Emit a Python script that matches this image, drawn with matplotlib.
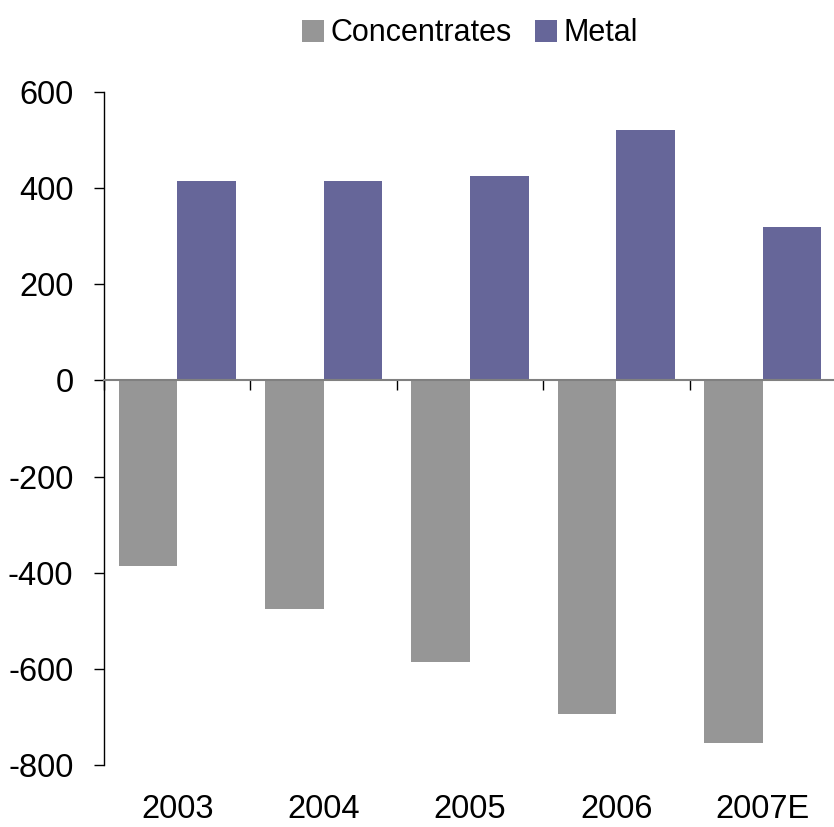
import matplotlib
matplotlib.use("Agg")
import matplotlib.pyplot as plt
import numpy as np

plt.rcParams['font.family'] = ['Liberation Sans', 'DejaVu Sans']

categories = ["2003", "2004", "2005", "2006", "2007E"]
concentrates = [-387, -476, -585, -693, -755]
metal = [414, 414, 426, 520, 320]
yticks = [-800, -600, -400, -200, 0, 200, 400, 600]

fig = plt.figure(figsize=(8.34, 8.27), dpi=100)
ax = fig.add_axes([104/834, 62/827, 732/834, 673/827])

x = np.arange(len(categories))
w = 0.4
ax.bar(x - w/2, concentrates, width=w, color='#969696', label='Concentrates', zorder=2)
ax.bar(x + w/2, metal, width=w, color='#666699', label='Metal', zorder=2)

ax.set_xlim(-0.5, len(categories) - 0.5)
ax.set_ylim(-800, 600)
ax.set_yticks(yticks)
ax.set_yticklabels([str(v) for v in yticks])
ax.tick_params(axis='y', direction='out', length=7, width=1, color='black', labelsize=23.5, pad=15)

for s in ['top', 'right']:
    ax.spines[s].set_visible(False)
ax.spines['left'].set_color('black')
ax.spines['left'].set_linewidth(1)
ax.spines['bottom'].set_position(('data', 0))
ax.spines['bottom'].set_color('#808080')
ax.spines['bottom'].set_linewidth(1.5)
ax.spines['bottom'].set_zorder(3)

bounds = np.arange(len(categories) + 1) - 0.5
ax.set_xticks(bounds)
ax.set_xticklabels([''] * len(bounds))
ax.tick_params(axis='x', direction='out', length=7, width=1, color='black')

sec = ax.secondary_xaxis('bottom')
sec.set_xticks(x)
sec.set_xticklabels(categories)
sec.tick_params(length=0, labelsize=23.5, pad=21)
sec.spines['bottom'].set_visible(False)

fig.legend(loc='upper center', bbox_to_anchor=(470/834, 1.0), ncol=2, frameon=False,
           fontsize=22, handlelength=0.72, handleheight=0.72, handletextpad=0.23,
           columnspacing=0.75, borderaxespad=0.2)

fig.savefig('out.png', dpi=100)
